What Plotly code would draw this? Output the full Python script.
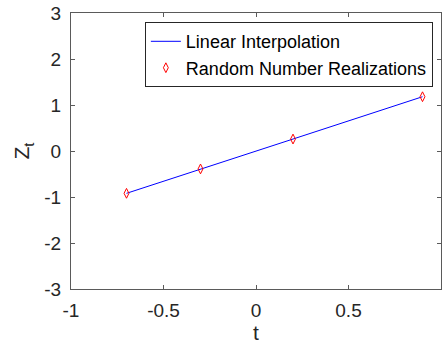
import plotly.graph_objects as go

# Sample times and the random-number realizations at those times
t_values = [-0.7, -0.3, 0.2, 0.9]
z_values = [-0.92, -0.39, 0.26, 1.18]

x_ticks = [-1, -0.5, 0, 0.5, 1]
x_tick_labels = ["-1", "-0.5", "0", "0.5", "1"]
y_ticks = [-3, -2, -1, 0, 1, 2, 3]
y_tick_labels = ["-3", "-2", "-1", "0", "1", "2", "3"]

font_family = "Liberation Sans, Arial, Helvetica, sans-serif"
axis_color = "#5a5a5a"
text_color = "#262626"

fig = go.Figure()
fig.add_trace(go.Scatter(
    x=t_values, y=z_values, mode="lines",
    line=dict(color="#0000ff", width=1),
    name="Linear Interpolation",
))
fig.add_trace(go.Scatter(
    x=t_values, y=z_values, mode="markers",
    marker=dict(symbol="diamond-tall-open", color="#ff0000", size=7, line=dict(width=1)),
    name="Random Number Realizations",
))

axis_common = dict(
    showgrid=False, zeroline=False, showline=True, mirror="ticks",
    linecolor=axis_color, linewidth=1,
    ticks="inside", ticklen=4, tickcolor=axis_color,
    tickfont=dict(family=font_family, size=19, color=text_color),
)

fig.update_xaxes(
    range=[-1, 1], tickvals=x_ticks, ticktext=x_tick_labels,
    ticklabelstandoff=4,
    title=dict(text="t", font=dict(family=font_family, size=21, color=text_color), standoff=2),
    **axis_common,
)
fig.update_yaxes(
    range=[-3, 3], tickvals=y_ticks, ticktext=y_tick_labels,
    ticklabelstandoff=5,
    title=dict(text="Z<sub>t</sub>", font=dict(family=font_family, size=21, color=text_color), standoff=8),
    **axis_common,
)

fig.update_layout(
    width=444, height=350,
    margin=dict(l=71, r=3, t=13, b=61),
    paper_bgcolor="white", plot_bgcolor="white",
    font=dict(family=font_family, color=text_color),
    legend=dict(
        x=0.978, y=0.967, xanchor="right", yanchor="top",
        bgcolor="white", bordercolor="#262626", borderwidth=1,
        font=dict(family=font_family, size=18, color="#000000"),
        tracegroupgap=0, itemwidth=30,
    ),
    showlegend=True,
)

fig.write_html("out.html")
